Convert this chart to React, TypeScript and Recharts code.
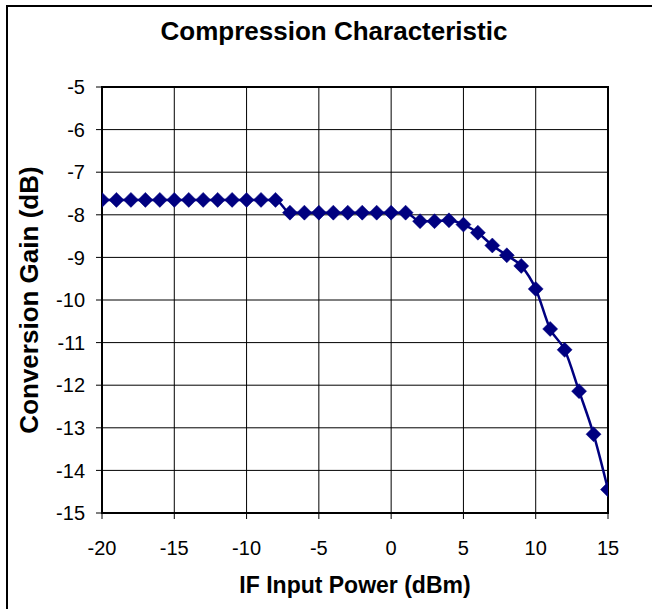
import React from 'react';
import {
  LineChart,
  Line,
  XAxis,
  YAxis,
  CartesianGrid,
  ReferenceArea,
  Label
} from 'recharts';

// IF input power (dBm)
const inputPower = [
  -20, -19, -18, -17, -16, -15, -14, -13, -12, -11, -10, -9, -8,
  -7, -6, -5, -4, -3, -2, -1, 0, 1,
  2, 3, 4, 5, 6, 7, 8, 9, 10, 11, 12, 13, 14, 15
];

// Conversion gain (dB)
const conversionGain = [
  -7.65, -7.65, -7.65, -7.65, -7.65, -7.65, -7.65, -7.65, -7.65, -7.65, -7.65, -7.65, -7.65,
  -7.95, -7.95, -7.95, -7.95, -7.95, -7.95, -7.95, -7.95, -7.95,
  -8.15, -8.15, -8.13, -8.23, -8.42, -8.72, -8.95, -9.2, -9.74, -10.68, -11.17, -12.14, -13.15, -14.45
];

const xTicks = [-20, -15, -10, -5, 0, 5, 10, 15];
const yTicks = [-15, -14, -13, -12, -11, -10, -9, -8, -7, -6, -5];

const data = inputPower.map((p, i) => ({ power: p, gain: conversionGain[i] }));

const FONT = '"Liberation Sans", Arial, sans-serif';
const NAVY = '#000080';

// diamond marker
// eslint-disable-next-line @typescript-eslint/no-explicit-any
const Diamond = (props: any) => {
  const { cx, cy } = props;
  if (cx == null || cy == null) return null;
  const r = 7.5;
  return (
    <polygon
      points={`${cx},${cy - r} ${cx + r},${cy} ${cx},${cy + r} ${cx - r},${cy}`}
      fill={NAVY}
      stroke={NAVY}
      strokeWidth={0.5}
    />
  );
};

// eslint-disable-next-line @typescript-eslint/no-explicit-any
const YTitle = (props: any) => {
  const vb = props.viewBox || {};
  const cy = (vb.y ?? 87) + (vb.height ?? 426) / 2;
  const cx = 38;
  return (
    <text
      x={cx}
      y={cy}
      transform={`rotate(-90 ${cx} ${cy})`}
      textAnchor="middle"
      fontFamily={FONT}
      fontWeight="bold"
      fontSize={26}
      fill="#000"
    >
      Conversion Gain (dB)
    </text>
  );
};

export default function App() {
  return (
    <div
      style={{
        position: 'absolute',
        left: 0,
        top: 0,
        width: 652,
        height: 609,
        background: '#fff',
        overflow: 'hidden'
      }}
    >
      <div
        style={{
          position: 'absolute',
          left: 6,
          top: 5,
          width: 700,
          height: 700,
          borderLeft: '2px solid #000',
          borderTop: '2px solid #000'
        }}
      />
      <div
        style={{
          position: 'absolute',
          left: 0,
          top: 18,
          width: 668,
          textAlign: 'center',
          fontFamily: FONT,
          fontWeight: 'bold',
          fontSize: 26,
          lineHeight: '26px',
          color: '#000'
        }}
      >
        Compression Characteristic
      </div>
      <LineChart
        width={652}
        height={609}
        data={data}
        margin={{ top: 87, right: 44, bottom: 0, left: 0 }}
        style={{ position: 'absolute', left: 0, top: 0 }}
      >
        <CartesianGrid stroke="#000" strokeWidth={1} horizontalValues={yTicks} verticalValues={xTicks} />
        <XAxis
          type="number"
          dataKey="power"
          domain={[-20, 15]}
          ticks={xTicks}
          interval={0}
          allowDataOverflow
          axisLine={{ stroke: '#000', strokeWidth: 2 }}
          tickLine={{ stroke: '#000' }}
          tickSize={6}
          tickMargin={22}
          tick={{ fill: '#000', fontFamily: FONT, fontSize: 20 }}
          height={96}
        >
          <Label
            value="IF Input Power (dBm)"
            position="insideBottom"
            offset={16}
            style={{ fontFamily: FONT, fontWeight: 'bold', fontSize: 23, fill: '#000' }}
          />
        </XAxis>
        <YAxis
          type="number"
          domain={[-15, -5]}
          ticks={yTicks}
          interval={0}
          allowDataOverflow
          axisLine={{ stroke: '#000', strokeWidth: 2 }}
          tickLine={{ stroke: '#000' }}
          tickSize={6}
          tickMargin={11}
          tick={{ fill: '#000', fontFamily: FONT, fontSize: 20 }}
          width={102}
        >
          <Label content={YTitle} />
        </YAxis>
        <ReferenceArea
          x1={-20}
          x2={15}
          y1={-15}
          y2={-5}
          fill="none"
          stroke="#000"
          strokeWidth={2}
          ifOverflow="visible"
        />
        <Line
          type="monotone"
          dataKey="gain"
          stroke={NAVY}
          strokeWidth={2.5}
          dot={<Diamond />}
          activeDot={false}
          isAnimationActive={false}
        />
      </LineChart>
    </div>
  );
}
